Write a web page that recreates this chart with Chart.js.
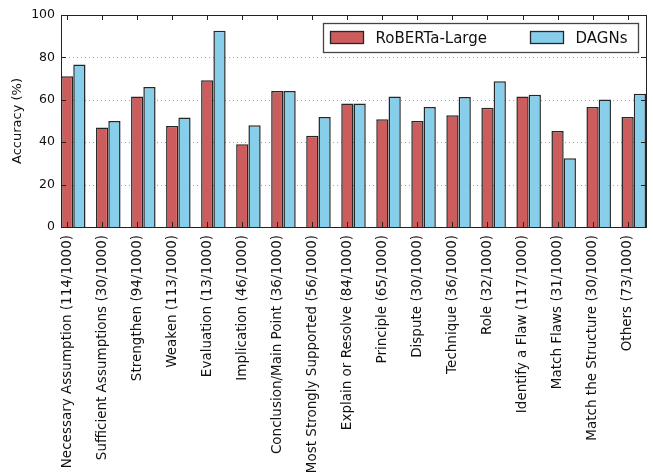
<!DOCTYPE html>
<html><head><meta charset="utf-8">
<script src="https://cdn.jsdelivr.net/npm/chart.js@4"></script>
<style>html,body{margin:0;padding:0;background:#fff}</style>
</head><body>
<canvas id="c" width="653" height="474"></canvas>
<script>
const categories = [
  'Necessary Assumption (114/1000)',
  'Sufficient Assumptions (30/1000)',
  'Strengthen (94/1000)',
  'Weaken (113/1000)',
  'Evaluation (13/1000)',
  'Implication (46/1000)',
  'Conclusion/Main Point (36/1000)',
  'Most Strongly Supported (56/1000)',
  'Explain or Resolve (84/1000)',
  'Principle (65/1000)',
  'Dispute (30/1000)',
  'Technique (36/1000)',
  'Role (32/1000)',
  'Identify a Flaw (117/1000)',
  'Match Flaws (31/1000)',
  'Match the Structure (30/1000)',
  'Others (73/1000)'
];
const robertaLarge = [71.1, 46.9, 61.6, 47.6, 69.2, 39.0, 64.2, 43.1, 58.2, 50.8, 50.0, 52.7, 56.3, 61.6, 45.3, 56.6, 51.9];
const dagns        = [76.6, 50.0, 66.0, 51.6, 92.6, 48.0, 64.2, 51.9, 58.2, 61.6, 56.6, 61.3, 68.7, 62.4, 32.4, 60.2, 62.9];
const seriesNames = ['RoBERTa-Large', 'DAGNs'];
const yTicks = [0, 20, 40, 60, 80, 100];
const yTitle = 'Accuracy (%)';

const FONT = "'DejaVu Sans', sans-serif";
const RED = '#cd5c5c';
const BLUE = '#87ceeb';
const EDGE = '#262626';
const BAR_FRAC = 0.35;

const toPts = arr => arr.map((v, i) => ({x: i, y: v}));

const decor = {
  id: 'decor',
  beforeDatasetsDraw(chart) {
    const {ctx, chartArea: a, scales: {y}} = chart;
    ctx.save();
    ctx.strokeStyle = 'rgba(0,0,0,0.35)';
    ctx.lineWidth = 1;
    ctx.setLineDash([1, 3]);
    yTicks.forEach(v => {
      if (v === yTicks[0] || v === yTicks[yTicks.length - 1]) return;
      const py = Math.round(y.getPixelForValue(v)) + 0.5;
      ctx.beginPath(); ctx.moveTo(a.left, py); ctx.lineTo(a.right, py); ctx.stroke();
    });
    ctx.restore();
  },
  afterDatasetsDraw(chart) {
    const {ctx, chartArea: a, scales: {x, y}} = chart;
    ctx.save();
    ctx.strokeStyle = '#222';
    ctx.lineWidth = 1;
    const TL = 5;
    yTicks.forEach(v => {
      const py = Math.round(y.getPixelForValue(v)) + 0.5;
      ctx.beginPath();
      ctx.moveTo(a.left, py); ctx.lineTo(a.left + TL, py);
      ctx.moveTo(a.right, py); ctx.lineTo(a.right - TL, py);
      ctx.stroke();
    });
    x.ticks.forEach(t => {
      const px = Math.round(x.getPixelForValue(t.value)) + 0.5;
      ctx.beginPath();
      ctx.moveTo(px, a.top); ctx.lineTo(px, a.top + TL);
      ctx.moveTo(px, a.bottom); ctx.lineTo(px, a.bottom - TL);
      ctx.stroke();
    });
    ctx.strokeRect(Math.round(a.left) + 0.5, Math.round(a.top) + 0.5,
                   Math.round(a.right - a.left), Math.round(a.bottom - a.top));
    const lw = 315, lh = 29;
    const lx = Math.round(a.right - 8 - lw) + 0.5, ly = Math.round(a.top + 8) + 0.5;
    ctx.fillStyle = '#fff';
    ctx.fillRect(lx, ly, lw, lh);
    ctx.strokeStyle = '#444';
    ctx.lineWidth = 1.3;
    ctx.strokeRect(lx, ly, lw, lh);
    ctx.font = '15px ' + FONT;
    ctx.textBaseline = 'middle';
    const entries = [[seriesNames[0], RED, 7], [seriesNames[1], BLUE, 207]];
    entries.forEach(([name, col, off]) => {
      const hx = lx + off, hy = ly + 8;
      ctx.fillStyle = col;
      ctx.fillRect(hx, hy, 33, 12);
      ctx.strokeStyle = EDGE;
      ctx.strokeRect(hx, hy, 33, 12);
      ctx.fillStyle = '#111';
      ctx.fillText(name, hx + 45, ly + lh / 2 + 1);
    });
    ctx.restore();
  }
};

new Chart(document.getElementById('c'), {
  type: 'bar',
  data: {
    datasets: [
      {label: seriesNames[0], data: toPts(robertaLarge), backgroundColor: RED, borderColor: EDGE, borderWidth: 1.5},
      {label: seriesNames[1], data: toPts(dagns), backgroundColor: BLUE, borderColor: EDGE, borderWidth: 1.5}
    ]
  },
  options: {
    responsive: false,
    animation: false,
    devicePixelRatio: 1,
    categoryPercentage: 2 * BAR_FRAC,
    barPercentage: 1,
    layout: {padding: {left: 0, right: 7, top: 15, bottom: 0}},
    plugins: {legend: {display: false}, tooltip: {enabled: false}},
    scales: {
      x: {
        type: 'linear',
        offset: false,
        min: -BAR_FRAC,
        max: categories.length - 1 + BAR_FRAC,
        grid: {display: false, drawTicks: false, offset: false},
        border: {display: false},
        afterBuildTicks: s => { s.ticks = categories.map((c, i) => ({value: i - BAR_FRAC / 2})); },
        afterFit: s => { s.height = 247; },
        ticks: {
          autoSkip: false, minRotation: 90, maxRotation: 90, padding: 8,
          color: '#111', font: {family: FONT, size: 13.5},
          callback: (v, i) => categories[i]
        }
      },
      y: {
        min: 0, max: 100,
        grid: {display: false, drawTicks: false},
        border: {display: false},
        afterBuildTicks: s => { s.ticks = yTicks.map(v => ({value: v})); },
        afterFit: s => { s.width = 61; },
        ticks: {padding: 6, color: '#111', font: {family: FONT, size: 12.5}},
        title: {display: true, text: yTitle, color: '#111', font: {family: FONT, size: 13}, padding: {top: 10, bottom: 0}}
      }
    }
  },
  plugins: [decor]
});
</script>
</body></html>
